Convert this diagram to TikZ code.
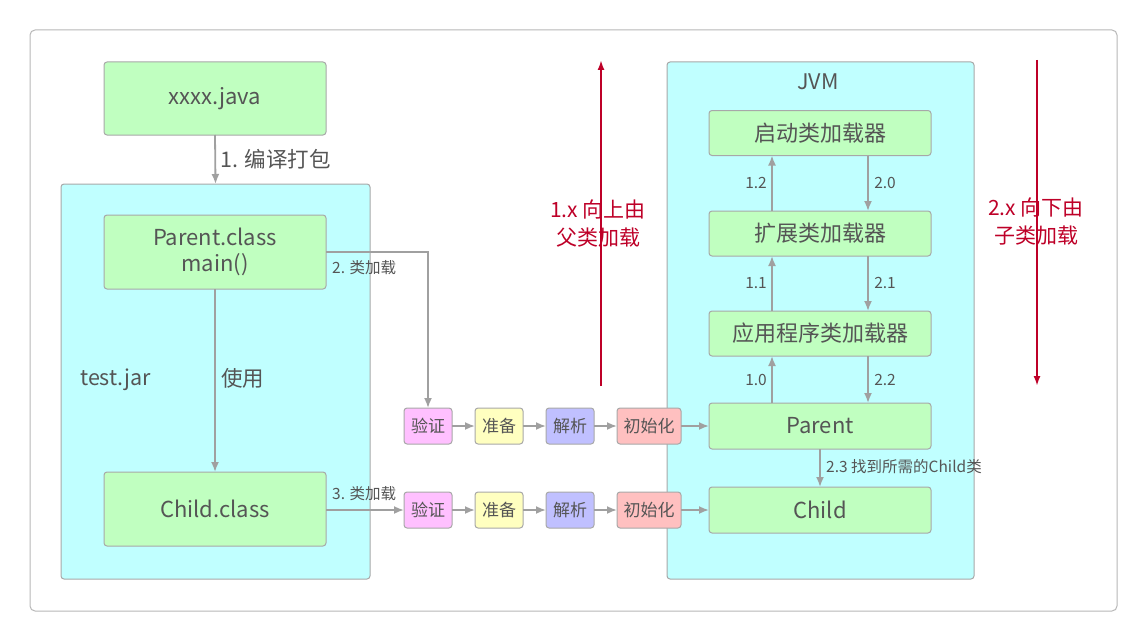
\documentclass[tikz,border=0pt]{standalone}
\usepackage{fontspec}
\setmainfont{Noto Sans CJK SC}
\usetikzlibrary{arrows.meta}
\definecolor{bordergray}{HTML}{A8A8A8}
\definecolor{framegray}{HTML}{B8B8B8}
\definecolor{boxgreen}{HTML}{C0FFC0}
\definecolor{boxcyan}{HTML}{C0FFFF}
\definecolor{stpink}{HTML}{FFC0FF}
\definecolor{styellow}{HTML}{FFFFC0}
\definecolor{stblue}{HTML}{C0C0FF}
\definecolor{stred}{HTML}{FFC0C0}
\definecolor{textgray}{HTML}{555555}
\definecolor{arrgray}{HTML}{A0A0A0}
\definecolor{darkred}{HTML}{BE0028}
\newcommand{\fs}[2]{\fontsize{#1}{#2}\selectfont}
\tikzset{
  box/.style={draw=bordergray, fill=boxgreen, rounded corners=3pt, line width=1pt, inner sep=0pt, outer sep=0pt, text=textgray, align=center, font=\fs{22}{26}},
  cont/.style={draw=bordergray, fill=boxcyan, rounded corners=3pt, line width=1pt, inner sep=0pt, outer sep=0pt},
  stage/.style={draw=bordergray, rounded corners=3pt, line width=1pt, inner sep=0pt, outer sep=0pt, text=textgray, font=\fs{17}{20}, minimum height=36pt},
  arr/.style={draw=arrgray, line width=1.8pt, -{Latex[length=10pt,width=8pt]}},
  redarr/.style={draw=darkred, line width=2pt, -{Latex[length=10pt,width=7pt]}},
  lbl/.style={text=textgray, inner sep=0pt, font=\fs{15.5}{18}},
  biglbl/.style={text=textgray, inner sep=0pt, font=\fs{21.5}{25}},
  redlbl/.style={text=darkred, inner sep=0pt, align=center, font=\fs{21}{28}}
}
\begin{document}
\begin{tikzpicture}[x=1pt,y=-1pt]
\useasboundingbox (0,0) rectangle (1148,642);
\draw[framegray, line width=1pt, rounded corners=5pt, fill=white] (30,30) rectangle (1117,611);

% containers
\node[cont, minimum width=309pt, minimum height=395pt] (jar) at (215.5,381.5) {};
\node[cont, minimum width=307pt, minimum height=517pt] (jvm) at (820.5,320.5) {};

% left column
\node[box, minimum width=222pt, minimum height=73pt] (java) at (215,98.5) {xxxx.java};
\node[box, minimum width=222pt, minimum height=74pt] (pc) at (215,252) {Parent.class\\main()};
\node[box, minimum width=222pt, minimum height=74pt] (cc) at (215,509) {Child.class};
\node[biglbl, anchor=west] (jarlbl) at (80,380) {test.jar};

\draw[arr] (java.south) -- (jar.north);
\node[biglbl, anchor=west] (l1) at (220,159) {1. 编译打包};
\draw[arr] (pc.south) -- (cc.north);
\node[biglbl, anchor=west] (use) at (221,378) {使用};

% JVM column
\node[biglbl] (jvmlbl) at (818,82) {JVM};
\node[box, minimum width=222pt, minimum height=45pt] (boot) at (820,133) {启动类加载器};
\node[box, minimum width=222pt, minimum height=45pt] (ext) at (820,233.5) {扩展类加载器};
\node[box, minimum width=222pt, minimum height=45pt] (app) at (820,333.5) {应用程序类加载器};
\node[box, minimum width=222pt, minimum height=46pt] (pj) at (820,426) {Parent};
\node[box, minimum width=222pt, minimum height=46pt] (cj) at (820,510) {Child};

\coordinate (ux) at (772,0);
\coordinate (dx) at (868,0);
\draw[arr] (ext.north -| ux) -- (boot.south -| ux);
\draw[arr] (app.north -| ux) -- (ext.south -| ux);
\draw[arr] (pj.north -| ux) -- (app.south -| ux);
\draw[arr] (boot.south -| dx) -- (ext.north -| dx);
\draw[arr] (ext.south -| dx) -- (app.north -| dx);
\draw[arr] (app.south -| dx) -- (pj.north -| dx);
\node[lbl] (t12) at (756,183) {1.2};
\node[lbl] (t11) at (756,283) {1.1};
\node[lbl] (t10) at (756,380) {1.0};
\node[lbl] (t20) at (885,183) {2.0};
\node[lbl] (t21) at (885,283) {2.1};
\node[lbl] (t22) at (885,380) {2.2};
\draw[arr] (pj.south) -- (cj.north);
\node[lbl, anchor=west] (t23) at (826,467) {2.3 找到所需的Child类};

% stages row 1
\node[stage, fill=stpink, minimum width=48pt] (v1) at (428,426) {验证};
\node[stage, fill=styellow, minimum width=48pt] (p1) at (499,426) {准备};
\node[stage, fill=stblue, minimum width=48pt] (r1) at (570,426) {解析};
\node[stage, fill=stred, minimum width=64pt] (i1) at (649,426) {初始化};
% stages row 2
\node[stage, fill=stpink, minimum width=48pt] (v2) at (428,510) {验证};
\node[stage, fill=styellow, minimum width=48pt] (p2) at (499,510) {准备};
\node[stage, fill=stblue, minimum width=48pt] (r2) at (570,510) {解析};
\node[stage, fill=stred, minimum width=64pt] (i2) at (649,510) {初始化};

\draw[arr] (v1) -- (p1);
\draw[arr] (p1) -- (r1);
\draw[arr] (r1) -- (i1);
\draw[arr] (i1) -- (pj.west |- i1);
\draw[arr] (v2) -- (p2);
\draw[arr] (p2) -- (r2);
\draw[arr] (r2) -- (i2);
\draw[arr] (i2) -- (cj.west |- i2);

\draw[arr] (pc.east) -| (v1.north);
\node[lbl, anchor=west] (t2) at (332,268) {2. 类加载};
\draw[arr] (cc.east |- v2) -- (v2.west);
\node[lbl, anchor=west] (t3) at (332,494) {3. 类加载};

% red arrows
\coordinate (ra1) at (601,386);
\coordinate (ra2) at (601,60);
\coordinate (rb1) at (1037,60);
\coordinate (rb2) at (1037,386);
\draw[redarr] (ra1) -- (ra2);
\draw[redarr] (rb1) -- (rb2);
\node[redlbl] (rt1) at (598,224) {1.x 向上由\\父类加载};
\node[redlbl] (rt2) at (1036,222) {2.x 向下由\\子类加载};
\end{tikzpicture}
\end{document}
